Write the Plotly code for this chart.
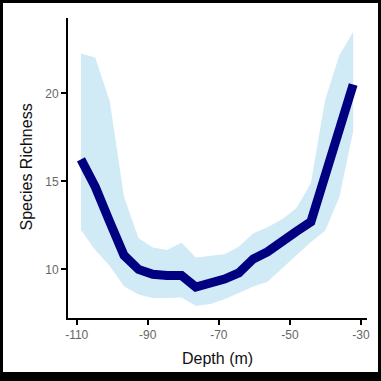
import plotly.graph_objects as go

# Depth bins (m) and modelled species richness with its confidence band
depth = [-108.8, -104.8, -100.7, -96.7, -92.6, -88.6, -84.6, -80.5, -76.5, -72.4,
         -68.4, -64.4, -60.3, -56.3, -52.2, -48.2, -44.1, -40.1, -36.1, -32.2]
richness = [16.25, 14.7, 12.7, 10.8, 10.0, 9.72, 9.65, 9.65, 9.0, 9.2,
            9.45, 9.8, 10.6, 11.0, 11.65, 12.15, 12.7, 15.3, 18.1, 20.5]
upper = [22.27, 22.04, 19.55, 14.13, 11.77, 11.25, 11.1, 11.52, 10.68, 10.77,
         10.86, 11.29, 12.05, 12.4, 12.85, 13.47, 14.9, 19.62, 22.15, 23.5]
lower = [12.24, 11.1, 10.2, 9.05, 8.57, 8.38, 8.38, 8.4, 7.93, 8.03,
         8.3, 8.68, 9.03, 9.3, 10.05, 10.75, 11.55, 12.2, 14.1, 17.85]

x_ticks = [-110, -90, -70, -50, -30]
y_ticks = [10, 15, 20]

W = H = 381
L, R, T, B = 68, 14, 18, 63
pw, ph = W - L - R, H - T - B

fig = go.Figure()
fig.add_trace(go.Scatter(x=depth, y=lower, mode="lines", line=dict(width=0),
                         hoverinfo="skip", showlegend=False))
fig.add_trace(go.Scatter(x=depth, y=upper, mode="lines", line=dict(width=0),
                         fill="tonexty", fillcolor="rgb(208,234,246)",
                         hoverinfo="skip", showlegend=False))
fig.add_trace(go.Scatter(x=depth, y=richness, mode="lines",
                         line=dict(color="#000080", width=9), showlegend=False))

axis_font = dict(family="Liberation Sans, Arial, sans-serif", size=12, color="#666666")
fig.update_xaxes(range=[-112.45, -28.31], tickvals=x_ticks,
                 ticktext=[str(v) for v in x_ticks],
                 showgrid=False, zeroline=False, showline=True,
                 linecolor="black", linewidth=2, ticks="outside", ticklen=5,
                 tickwidth=2, tickcolor="black", tickfont=axis_font)
fig.update_yaxes(range=[7.24, 24.28], tickvals=y_ticks,
                 ticktext=[str(v) for v in y_ticks],
                 showgrid=False, zeroline=False, showline=True,
                 linecolor="black", linewidth=2, ticks="outside", ticklen=5,
                 tickwidth=2, tickcolor="black", tickfont=axis_font)

title_font = dict(family="Liberation Sans, Arial, sans-serif", size=16, color="#111111")
fig.add_annotation(text="Depth (m)", xref="paper", yref="paper",
                   x=(217.5 - L) / pw, y=(T + ph - 358) / ph,
                   showarrow=False, font=title_font, xanchor="center", yanchor="middle")
fig.add_annotation(text="Species Richness", xref="paper", yref="paper",
                   x=(26 - L) / pw, y=(T + ph - 167.5) / ph, textangle=-90,
                   showarrow=False, font=title_font, xanchor="center", yanchor="middle")

# white panel inside a thin dark frame
fig.add_shape(type="rect", xref="paper", yref="paper", layer="below",
              x0=(3 - L) / pw, x1=(378 - L) / pw,
              y0=(T + ph - 372) / ph, y1=(T + ph - 3) / ph,
              fillcolor="white", line=dict(width=0))

fig.update_layout(width=W, height=H, margin=dict(l=L, r=R, t=T, b=B),
                  paper_bgcolor="black", plot_bgcolor="white")
fig.write_html("out.html")
